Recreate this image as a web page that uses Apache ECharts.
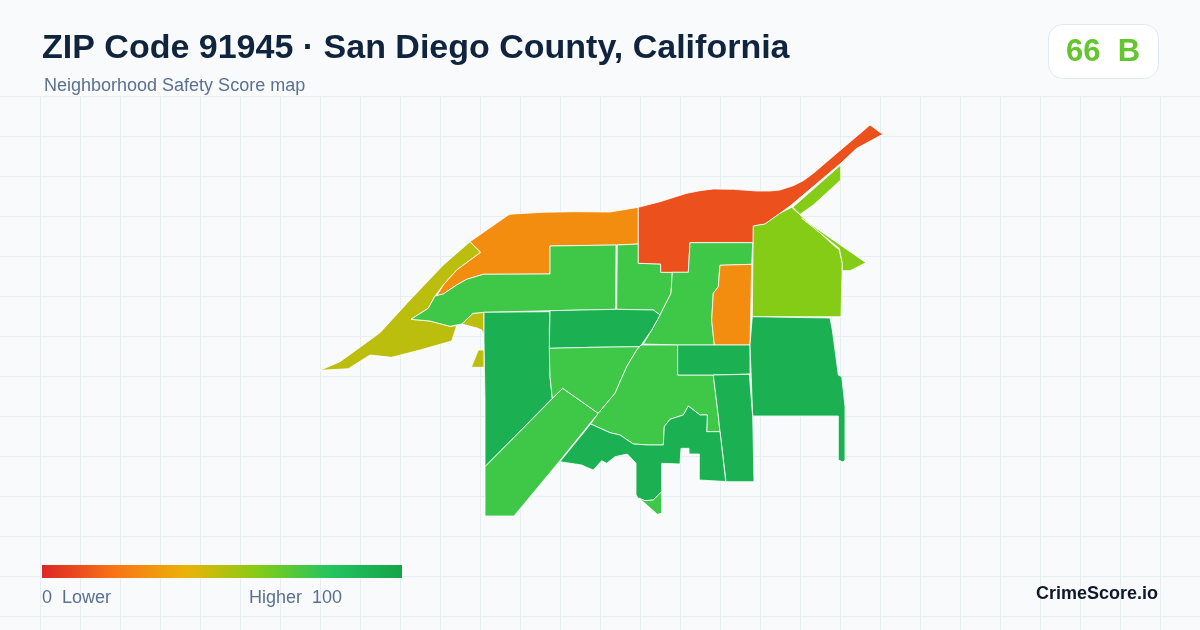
<!DOCTYPE html>
<html>
<head>
<meta charset="utf-8">
<title>ZIP Code 91945</title>
<script src="https://cdn.jsdelivr.net/npm/echarts@6/dist/echarts.min.js"></script>
<style>
  html, body { margin: 0; padding: 0; background: #f8fafc; }
  #chart { width: 1200px; height: 630px; }
</style>
</head>
<body>
<div id="chart"></div>
<script>
// Texts
var TITLE = 'ZIP Code 91945 \u00b7 San Diego County, California';
var SUBTITLE = 'Neighborhood Safety Score map';
var BADGE = '66  B';
var BRAND = 'CrimeScore.io';
var LEGEND_LOW = '0  Lower';
var LEGEND_HIGH = 'Higher  100';

// Colour scale, 0 to 100
var SCALE_COLORS = ['#dc2626', '#f97316', '#eab308', '#84cc16', '#22c55e', '#16a34a'];

// One score per neighborhood, same order as the shapes below
var regionNames = ['Coast', 'North Ridge', 'Canyon', 'Upper Mesa', 'Summit', 'Foothill', 'Outer Hills',
  'Central East', 'Orange Grove', 'West Park', 'South Diagonal', 'Mid North', 'Mid South',
  'Central', 'East Block', 'East Strip', 'South', 'South Tip', 'Far East'];
var regionScores = [49, 28, 74, 74, 11, 60, 60, 74, 28, 92, 74, 92, 74, 74, 92, 92, 92, 74, 92];

// Boundaries, each neighborhood is a list of rings
var regionShapes = [
  [[[320,370.3],[340,361.7],[370,340],[380,332.7],[410,300],[443.3,265],[470,241.7],[480.7,252.3],[456.7,270],[443.3,285],[435,296],[428.3,308.3],[411,319.3],[430,321],[450,326.3],[456.7,325.7],[451.7,341],[420,350],[391.7,357.3],[370,355],[348.3,368.7]],
   [[461.7,324],[473,313.3],[484,312.3],[484,336],[481.7,330],[478,328.3]],
   [[471.3,367.3],[478.3,350],[484,350],[484,367.3]],
   [[484,368],[485.5,368],[485.5,375],[484,375]]],
  [[[470,241.7],[508.3,215],[513,214],[543.3,212.3],[575,211.7],[610,212],[638.3,207.3],[638.3,244],[617,245],[550,246],[550,274],[483.3,274.3],[466.7,279.3],[456.7,285],[443.3,294],[436.7,296],[443.3,285],[456.7,270],[480.7,252.3]]],
  [[[411,319.3],[428.3,308.3],[435,296],[443.3,294],[456.7,285],[466.7,279.3],[483.3,274.3],[550,274],[550,246],[616,245],[615.7,309.3],[550,310.7],[484,312.3],[473,313.3],[461.7,324],[450,326.3],[430,321]]],
  [[[617.3,245],[638.3,244],[638.3,263.3],[660.7,264],[660.7,272.3],[672.3,272.3],[671,293.3],[660,315],[653.3,310],[616.7,309.3]]],
  [[[638.3,207.3],[660,201.7],[686.7,193.3],[700,190.7],[713.3,189],[733.3,189.3],[756.7,191],[770,191],[780,190],[793.3,185.7],[803.3,180.7],[813.3,173.3],[870,125],[882.7,134.3],[856.7,148.3],[840.7,163.3],[790,206],[780,213.3],[765,224],[753.3,226],[753.3,242.7],[690,242.7],[688.3,272.3],[660.7,272.3],[660.7,264],[638.3,263.3]]],
  [[[791.7,207.3],[833.3,245],[839.3,250],[842.3,263.3],[841,316.7],[752.3,316.7],[753.3,226],[765,224],[780,213.3]]],
  [[[840.7,165],[840.7,180],[813.3,205],[800,214.3],[792.7,207.3]],
   [[801.7,218.3],[866,262.7],[850,270.7],[842.3,270.7],[842.3,263.3],[839.3,248.3]]],
  [[[690,242.7],[752.7,242.7],[751.7,264.3],[720,265.3],[718.3,286.7],[713.3,293.3],[711.7,320],[714.3,345],[677.7,345],[643.3,344],[651.7,330],[660,315],[671,293.3],[672.3,272.3],[688.3,272.3]]],
  [[[720,265.3],[751.7,264.3],[750,345],[714.3,345],[711.7,320],[713.3,293.3],[718.3,286.7]]],
  [[[484,312.3],[550,311.7],[549.3,330],[550,376.7],[552.3,398.3],[485,466.7],[485,400],[484,340]]],
  [[[562.7,388.3],[598.3,413.3],[590,423.3],[559,461.7],[514,516],[485,516],[485,466.7]]],
  [[[550,310.7],[616.7,309.3],[653.3,310],[660,315],[651.7,330],[640,346.7],[593.3,347.3],[549.3,348.3]]],
  [[[549.3,348.3],[593.3,347.3],[639.7,346.7],[636.7,350],[626.7,366.7],[615,393.3],[598.3,413.3],[562.7,388.3],[552.3,398.3],[550,376.7]]],
  [[[641,345],[677.7,345],[677.7,375],[713.3,375],[718.3,416],[720,431.7],[706.7,431.7],[707.3,415],[700,415],[688.3,406],[683.3,415],[670,419.3],[664.3,426.7],[663.3,445],[648.3,445],[633.3,444],[620,435],[610,432.7],[590.7,424],[598.3,413.3],[615,393.3],[626.7,366.7],[636.7,350]]],
  [[[677.7,345],[750,345],[750,374],[713.3,375],[677.7,375]]],
  [[[713.3,375],[749.3,374.3],[752.7,416.7],[754,481.7],[726,481.7],[720,431.7],[718.3,416]]],
  [[[590.7,424],[610,432.7],[620,435],[633.3,444],[648.3,445],[663.3,445],[664.3,426.7],[670,419.3],[683.3,415],[688.3,406],[700,415],[707.3,415],[706.7,431.7],[720,431.7],[725.7,481.5],[699.3,480],[699.3,454],[689,454],[689,448.3],[681,448.3],[680,464],[661.7,463.3],[661.7,491.7],[653.3,500],[645,500.7],[638.3,498.3],[636,495],[636,463.3],[627.3,454],[615,456.7],[606.7,463.3],[601.7,460.7],[593.3,470],[586.7,467.3],[581.7,465],[560,461.7]]],
  [[[639.3,498.3],[645,500.7],[653.3,500],[661.7,491.7],[661.7,513.3],[657.3,514.3]]],
  [[[752.3,316.7],[830,318],[832.3,330],[838.3,375],[841.7,376.7],[845,406.7],[845,460],[843,462],[838.3,460],[838.3,416],[752.7,416],[750,345]]]
];

var chart = echarts.init(document.getElementById('chart'));

var features = regionNames.map(function (name, i) {
  return {
    type: 'Feature',
    properties: { name: name },
    geometry: { type: 'MultiPolygon', coordinates: regionShapes[i].map(function (ring) { return [ring]; }) }
  };
});
echarts.registerMap('zip91945', { type: 'FeatureCollection', features: features });

var mapData = regionNames.map(function (name, i) {
  return { name: name, value: regionScores[i] };
});

// Map extent, the shapes are already in page pixels
var xs = [], ys = [];
regionShapes.forEach(function (shape) {
  shape.forEach(function (ring) {
    ring.forEach(function (p) { xs.push(p[0]); ys.push(p[1]); });
  });
});
var minX = Math.min.apply(null, xs), maxX = Math.max.apply(null, xs);
var minY = Math.min.apply(null, ys), maxY = Math.max.apply(null, ys);

// Background grid
var gridLines = [];
var gridStyle = { stroke: '#e6eef2', lineWidth: 1 };
for (var gx = 40; gx < 1200; gx += 40) {
  gridLines.push({ type: 'line', silent: true, shape: { x1: gx + 0.5, y1: 97, x2: gx + 0.5, y2: 630 }, style: gridStyle });
}
for (var gy = 97; gy < 630; gy += 40) {
  gridLines.push({ type: 'line', silent: true, shape: { x1: 0, y1: gy - 0.5, x2: 1200, y2: gy - 0.5 }, style: gridStyle });
}

var FONT = '"Liberation Sans", Arial, sans-serif';

function label(text, x, y, size, color, weight, align) {
  return {
    type: 'text', silent: true, x: x, y: y, z: 10,
    style: {
      text: text, fill: color, textAlign: align || 'left', textVerticalAlign: 'middle',
      font: (weight || 'normal') + ' ' + size + 'px ' + FONT
    }
  };
}

// Legend bar drawn from the same colour list as the map
var barStops = SCALE_COLORS.map(function (c, i) {
  return { offset: i / (SCALE_COLORS.length - 1), color: c };
});

chart.setOption({
  animation: false,
  backgroundColor: '#f8fafc',
  visualMap: {
    type: 'continuous',
    show: false,
    min: 0,
    max: 100,
    inRange: { color: SCALE_COLORS }
  },
  graphic: gridLines.concat([
    label(TITLE, 42, 49, 34, '#10243e', 'bold'),
    label(SUBTITLE, 44, 86, 18, '#5b7190'),
    {
      type: 'rect', silent: true, z: 9,
      shape: { x: 1048.5, y: 24.5, width: 110, height: 54, r: 14 },
      style: { fill: '#ffffff', stroke: '#e2e8f0', lineWidth: 1 }
    },
    label(BADGE, 1103, 52, 31, '#65c52e', 'bold', 'center'),
    {
      type: 'rect', silent: true, z: 9,
      shape: { x: 42, y: 565, width: 360, height: 13 },
      style: { fill: new echarts.graphic.LinearGradient(0, 0, 1, 0, barStops) }
    },
    label(LEGEND_LOW, 42, 598, 18, '#5b7190'),
    label(LEGEND_HIGH, 249, 598, 18, '#5b7190'),
    label(BRAND, 1158, 594, 18, '#0f172a', 'bold', 'right')
  ]),
  series: [{
    type: 'map',
    map: 'zip91945',
    silent: true,
    roam: false,
    selectedMode: false,
    aspectScale: 1,
    projection: {
      project: function (p) { return p; },
      unproject: function (p) { return p; }
    },
    left: minX,
    top: minY,
    width: maxX - minX,
    height: maxY - minY,
    label: { show: false },
    itemStyle: { borderColor: '#ffffff', borderWidth: 0.8 },
    data: mapData
  }]
});
</script>
</body>
</html>
